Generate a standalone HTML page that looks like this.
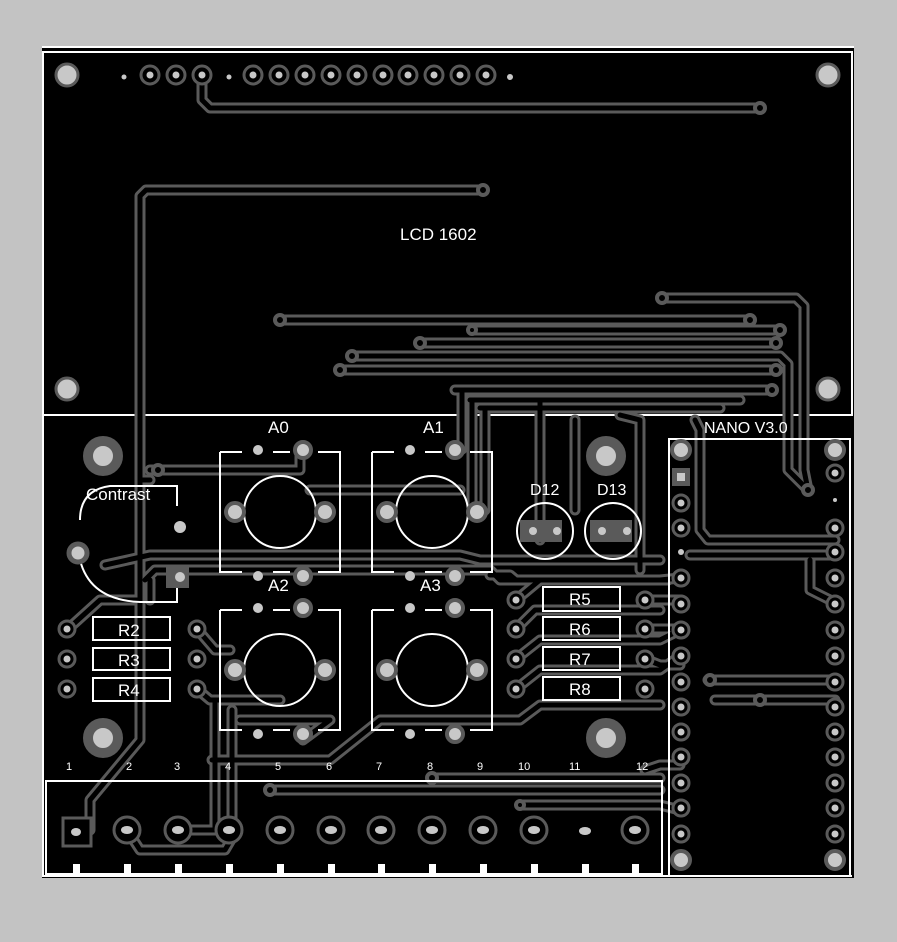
<!DOCTYPE html>
<html><head><style>
html,body{margin:0;padding:0;background:#c3c3c3;}
svg{display:block}
text{font-family:"Liberation Sans",sans-serif;fill:#fff}
</style></head><body>
<svg width="897" height="942" viewBox="0 0 897 942" xmlns="http://www.w3.org/2000/svg">
<defs>
<g id="pd"><circle r="9" fill="#000" stroke="#5a5a5a" stroke-width="3"/><circle r="3.5" fill="#c8c8c8"/></g>
<g id="pn"><circle r="8" fill="#000" stroke="#5a5a5a" stroke-width="3"/><circle r="3.5" fill="#c8c8c8"/></g>
<g id="pb"><circle r="9" fill="#c8c8c8" stroke="#5a5a5a" stroke-width="4"/></g>
<g id="tr" fill="none" stroke-linejoin="round" stroke-linecap="round">
<path d="M202 75 V100 L210 108 H760"/>
<path d="M483 190 H146 L140 196 V480 H150"/>
<path d="M140 480 V740 L90 800 V830"/>
<path d="M280 320 H750"/>
<path d="M662 298 H796 L804 306 V470 L808 490"/>
<path d="M472 330 H780"/>
<path d="M420 343 H776"/>
<path d="M352 356 H780 L788 364 V470 L808 490"/>
<path d="M340 370 H776"/>
<path d="M455 390 H772"/>
<path d="M470 400 H740"/>
<path d="M480 408 H720"/>
<path d="M462 392 V449"/>
<path d="M472 402 V505"/>
<path d="M485 410 V510"/>
<path d="M150 470 H300 V449"/>
<path d="M310 490 H460"/>
<path d="M105 565 L150 555 H460 L480 560 H660"/>
<path d="M145 580 L155 570 H490 L500 580 H668"/>
<path d="M150 600 V580"/>
<path d="M540 400 V540"/>
<path d="M575 420 V510"/>
<path d="M620 415 L640 420 V570"/>
<path d="M695 420 L700 430 V530 L708 540 H835"/>
<path d="M690 555 L700 555 H835"/>
<path d="M810 560 V590 L830 600"/>
<path d="M708 680 H835"/>
<path d="M715 700 H835"/>
<path d="M68 629 L100 600 L140 600"/>
<path d="M197 629 L215 650 H230"/>
<path d="M197 689 L210 700 H280"/>
<path d="M215 700 V830 L178 830"/>
<path d="M232 710 V830"/>
<path d="M240 720 H330 L303 740"/>
<path d="M212 760 H330 L380 720 H520 L540 705 H660"/>
<path d="M270 790 H660"/>
<path d="M432 778 H660"/>
<path d="M127 830 L140 850 H225 L232 838"/>
<path d="M516 600 L540 580 H660 L680 578"/>
<path d="M516 629 L535 610 H660"/>
<path d="M516 659 L540 640 H660 L680 630"/>
<path d="M516 689 L540 670 H660 L680 656"/>
<path d="M645 600 H680"/>
<path d="M645 629 H680"/>
<path d="M645 659 L660 665 H680"/>
<path d="M490 575 H510 L516 580"/>
<path d="M520 805 H660 L680 810"/>
<path d="M645 770 L660 765 H680"/>
</g>
</defs>
<rect width="897" height="942" fill="#c3c3c3"/>
<rect x="42" y="46" width="812" height="832" fill="#000"/>
<line x1="42" y1="47" x2="854" y2="47" stroke="#fff" stroke-width="2"/>
<rect x="43" y="52" width="809" height="363" fill="none" stroke="#fff" stroke-width="2"/>
<line x1="42" y1="415" x2="852" y2="415" stroke="#fff" stroke-width="2"/>
<line x1="43" y1="415" x2="43" y2="876" stroke="#fff" stroke-width="2"/>
<line x1="42" y1="876" x2="852" y2="876" stroke="#fff" stroke-width="2"/>

<use href="#tr" stroke="#5a5a5a" stroke-width="11"/>
<use href="#tr" stroke="#000" stroke-width="5"/>

<use href="#pd" x="150" y="75"/><use href="#pd" x="176" y="75"/><use href="#pd" x="202" y="75"/>
<use href="#pd" x="253" y="75"/><use href="#pd" x="279" y="75"/><use href="#pd" x="305" y="75"/><use href="#pd" x="331" y="75"/><use href="#pd" x="357" y="75"/><use href="#pd" x="383" y="75"/><use href="#pd" x="408" y="75"/><use href="#pd" x="434" y="75"/><use href="#pd" x="460" y="75"/><use href="#pd" x="486" y="75"/>
<g fill="#c8c8c8"><circle cx="124" cy="77" r="2.5"/><circle cx="229" cy="77" r="2.5"/><circle cx="510" cy="77" r="3"/></g>
<g fill="#c8c8c8" stroke="#5a5a5a" stroke-width="3">
<circle cx="67" cy="75" r="11"/><circle cx="828" cy="75" r="11"/><circle cx="67" cy="389" r="11"/><circle cx="828" cy="389" r="11"/>
</g>
<g fill="#000" stroke="#5a5a5a" stroke-width="4">
<circle cx="760" cy="108" r="5"/><circle cx="483" cy="190" r="5"/><circle cx="280" cy="320" r="5"/><circle cx="750" cy="320" r="5"/>
<circle cx="662" cy="298" r="5"/><circle cx="472" cy="330" r="4"/><circle cx="780" cy="330" r="5"/><circle cx="420" cy="343" r="5"/><circle cx="776" cy="343" r="5"/>
<circle cx="352" cy="356" r="5"/><circle cx="340" cy="370" r="5"/><circle cx="776" cy="370" r="5"/><circle cx="772" cy="390" r="5"/>
<circle cx="158" cy="470" r="5"/><circle cx="808" cy="490" r="5"/><circle cx="270" cy="790" r="5"/><circle cx="432" cy="778" r="5"/><circle cx="520" cy="805" r="4"/>
<circle cx="710" cy="680" r="5"/><circle cx="760" cy="700" r="5"/>
</g>
<g fill="#c8c8c8" stroke="#5a5a5a" stroke-width="10">
<circle cx="103" cy="456" r="15"/><circle cx="103" cy="738" r="15"/><circle cx="606" cy="456" r="15"/><circle cx="606" cy="738" r="15"/>
</g>

<text x="400" y="240" font-size="17">LCD 1602</text>

<g id="btn">
<g fill="none" stroke="#fff" stroke-width="2">
<path d="M220 452 H242 M273 452 H290 M318 452 H340 V572 H318 M290 572 H273 M242 572 H220 V452"/>
<circle cx="280" cy="512" r="36"/>
</g>
<use href="#pb" x="235" y="512"/><use href="#pb" x="325" y="512"/>
<g fill="#c8c8c8" stroke="#5a5a5a" stroke-width="4"><circle cx="303" cy="450" r="8"/><circle cx="303" cy="576" r="8"/></g>
<g fill="#c8c8c8"><circle cx="258" cy="450" r="5"/><circle cx="258" cy="576" r="5"/></g>
</g>
<use href="#btn" x="152" y="0"/>
<use href="#btn" x="0" y="158"/>
<use href="#btn" x="152" y="158"/>
<g font-size="17"><text x="268" y="433">A0</text><text x="423" y="433">A1</text><text x="268" y="591">A2</text><text x="420" y="591">A3</text></g>

<text x="86" y="500" font-size="17">Contrast</text>
<path d="M177 506 V486 H110 Q80 490 80 520 M80 560 Q90 600 140 602 H177 V585" fill="none" stroke="#fff" stroke-width="2"/>
<rect x="166" y="565" width="23" height="23" fill="#5a5a5a"/>
<circle cx="180" cy="577" r="5" fill="#c8c8c8"/>
<circle cx="180" cy="527" r="6" fill="#c8c8c8"/>
<circle cx="78" cy="553" r="9" fill="#c8c8c8" stroke="#5a5a5a" stroke-width="5"/>

<g fill="none" stroke="#fff" stroke-width="2">
<rect x="93" y="617" width="77" height="23"/><rect x="93" y="648" width="77" height="22"/><rect x="93" y="678" width="77" height="23"/>
<rect x="543" y="587" width="77" height="24"/><rect x="543" y="617" width="77" height="23"/><rect x="543" y="647" width="77" height="23"/><rect x="543" y="677" width="77" height="23"/>
</g>
<g font-size="17"><text x="118" y="636">R2</text><text x="118" y="666">R3</text><text x="118" y="696">R4</text>
<text x="569" y="605">R5</text><text x="569" y="635">R6</text><text x="569" y="665">R7</text><text x="569" y="695">R8</text></g>
<use href="#pn" x="67" y="629"/><use href="#pn" x="67" y="659"/><use href="#pn" x="67" y="689"/>
<use href="#pn" x="197" y="629"/><use href="#pn" x="197" y="659"/><use href="#pn" x="197" y="689"/>
<use href="#pn" x="516" y="600"/><use href="#pn" x="516" y="629"/><use href="#pn" x="516" y="659"/><use href="#pn" x="516" y="689"/>
<use href="#pn" x="645" y="600"/><use href="#pn" x="645" y="629"/><use href="#pn" x="645" y="659"/><use href="#pn" x="645" y="689"/>

<text x="530" y="495" font-size="16">D12</text><text x="597" y="495" font-size="16">D13</text>
<g fill="none" stroke="#fff" stroke-width="2"><circle cx="545" cy="531" r="28"/><circle cx="613" cy="531" r="28"/></g>
<rect x="520" y="520" width="42" height="22" fill="#5a5a5a"/>
<rect x="590" y="520" width="42" height="22" fill="#5a5a5a"/>
<g fill="#c8c8c8"><circle cx="533" cy="531" r="4"/><circle cx="557" cy="531" r="4"/><circle cx="602" cy="531" r="4"/><circle cx="627" cy="531" r="4"/></g>

<text x="704" y="433" font-size="16">NANO  V3.0</text>
<rect x="669" y="439" width="181" height="437" fill="none" stroke="#fff" stroke-width="2"/>
<g>
<use href="#pb" x="681" y="450"/><use href="#pn" x="681" y="503"/><use href="#pn" x="681" y="528"/><use href="#pn" x="681" y="578"/><use href="#pn" x="681" y="604"/><use href="#pn" x="681" y="630"/><use href="#pn" x="681" y="656"/><use href="#pn" x="681" y="682"/><use href="#pn" x="681" y="707"/><use href="#pn" x="681" y="732"/><use href="#pn" x="681" y="757"/><use href="#pn" x="681" y="783"/><use href="#pn" x="681" y="808"/><use href="#pn" x="681" y="834"/><use href="#pb" x="681" y="860"/>
<use href="#pb" x="835" y="450"/><use href="#pn" x="835" y="473"/><use href="#pn" x="835" y="528"/><use href="#pn" x="835" y="552"/><use href="#pn" x="835" y="578"/><use href="#pn" x="835" y="604"/><use href="#pn" x="835" y="630"/><use href="#pn" x="835" y="656"/><use href="#pn" x="835" y="682"/><use href="#pn" x="835" y="707"/><use href="#pn" x="835" y="732"/><use href="#pn" x="835" y="757"/><use href="#pn" x="835" y="783"/><use href="#pn" x="835" y="808"/><use href="#pn" x="835" y="834"/><use href="#pb" x="835" y="860"/>
</g>
<rect x="672" y="468" width="18" height="18" fill="#5a5a5a"/><rect x="677" y="473" width="8" height="8" fill="#c8c8c8"/>
<circle cx="681" cy="552" r="3" fill="#c8c8c8"/><circle cx="835" cy="500" r="2" fill="#c8c8c8"/>

<rect x="46" y="781" width="616" height="93" fill="none" stroke="#fff" stroke-width="2"/>
<g font-size="11"><text x="66" y="770">1</text><text x="126" y="770">2</text><text x="174" y="770">3</text><text x="225" y="770">4</text><text x="275" y="770">5</text><text x="326" y="770">6</text><text x="376" y="770">7</text><text x="427" y="770">8</text><text x="477" y="770">9</text><text x="518" y="770">10</text><text x="569" y="770">11</text><text x="636" y="770">12</text></g>
<rect x="63" y="818" width="28" height="28" fill="#000" stroke="#5a5a5a" stroke-width="3"/><ellipse cx="76" cy="832" rx="5" ry="4" fill="#c8c8c8"/>
<g fill="#000" stroke="#5a5a5a" stroke-width="3">
<circle cx="127" cy="830" r="13"/><circle cx="178" cy="830" r="13"/><circle cx="229" cy="830" r="13"/><circle cx="280" cy="830" r="13"/><circle cx="331" cy="830" r="13"/><circle cx="381" cy="830" r="13"/><circle cx="432" cy="830" r="13"/><circle cx="483" cy="830" r="13"/><circle cx="534" cy="830" r="13"/><circle cx="635" cy="830" r="13"/>
</g>
<g fill="#c8c8c8">
<ellipse cx="127" cy="830" rx="6" ry="4"/><ellipse cx="178" cy="830" rx="6" ry="4"/><ellipse cx="229" cy="830" rx="6" ry="4"/><ellipse cx="280" cy="830" rx="6" ry="4"/><ellipse cx="331" cy="830" rx="6" ry="4"/><ellipse cx="381" cy="830" rx="6" ry="4"/><ellipse cx="432" cy="830" rx="6" ry="4"/><ellipse cx="483" cy="830" rx="6" ry="4"/><ellipse cx="534" cy="830" rx="6" ry="4"/><ellipse cx="585" cy="831" rx="6" ry="4"/><ellipse cx="635" cy="830" rx="6" ry="4"/>
</g>
<g fill="#fff"><rect x="73" y="864" width="7" height="10"/><rect x="124" y="864" width="7" height="10"/><rect x="175" y="864" width="7" height="10"/><rect x="226" y="864" width="7" height="10"/><rect x="277" y="864" width="7" height="10"/><rect x="328" y="864" width="7" height="10"/><rect x="378" y="864" width="7" height="10"/><rect x="429" y="864" width="7" height="10"/><rect x="480" y="864" width="7" height="10"/><rect x="531" y="864" width="7" height="10"/><rect x="582" y="864" width="7" height="10"/><rect x="632" y="864" width="7" height="10"/></g>
</svg>
</body></html>
